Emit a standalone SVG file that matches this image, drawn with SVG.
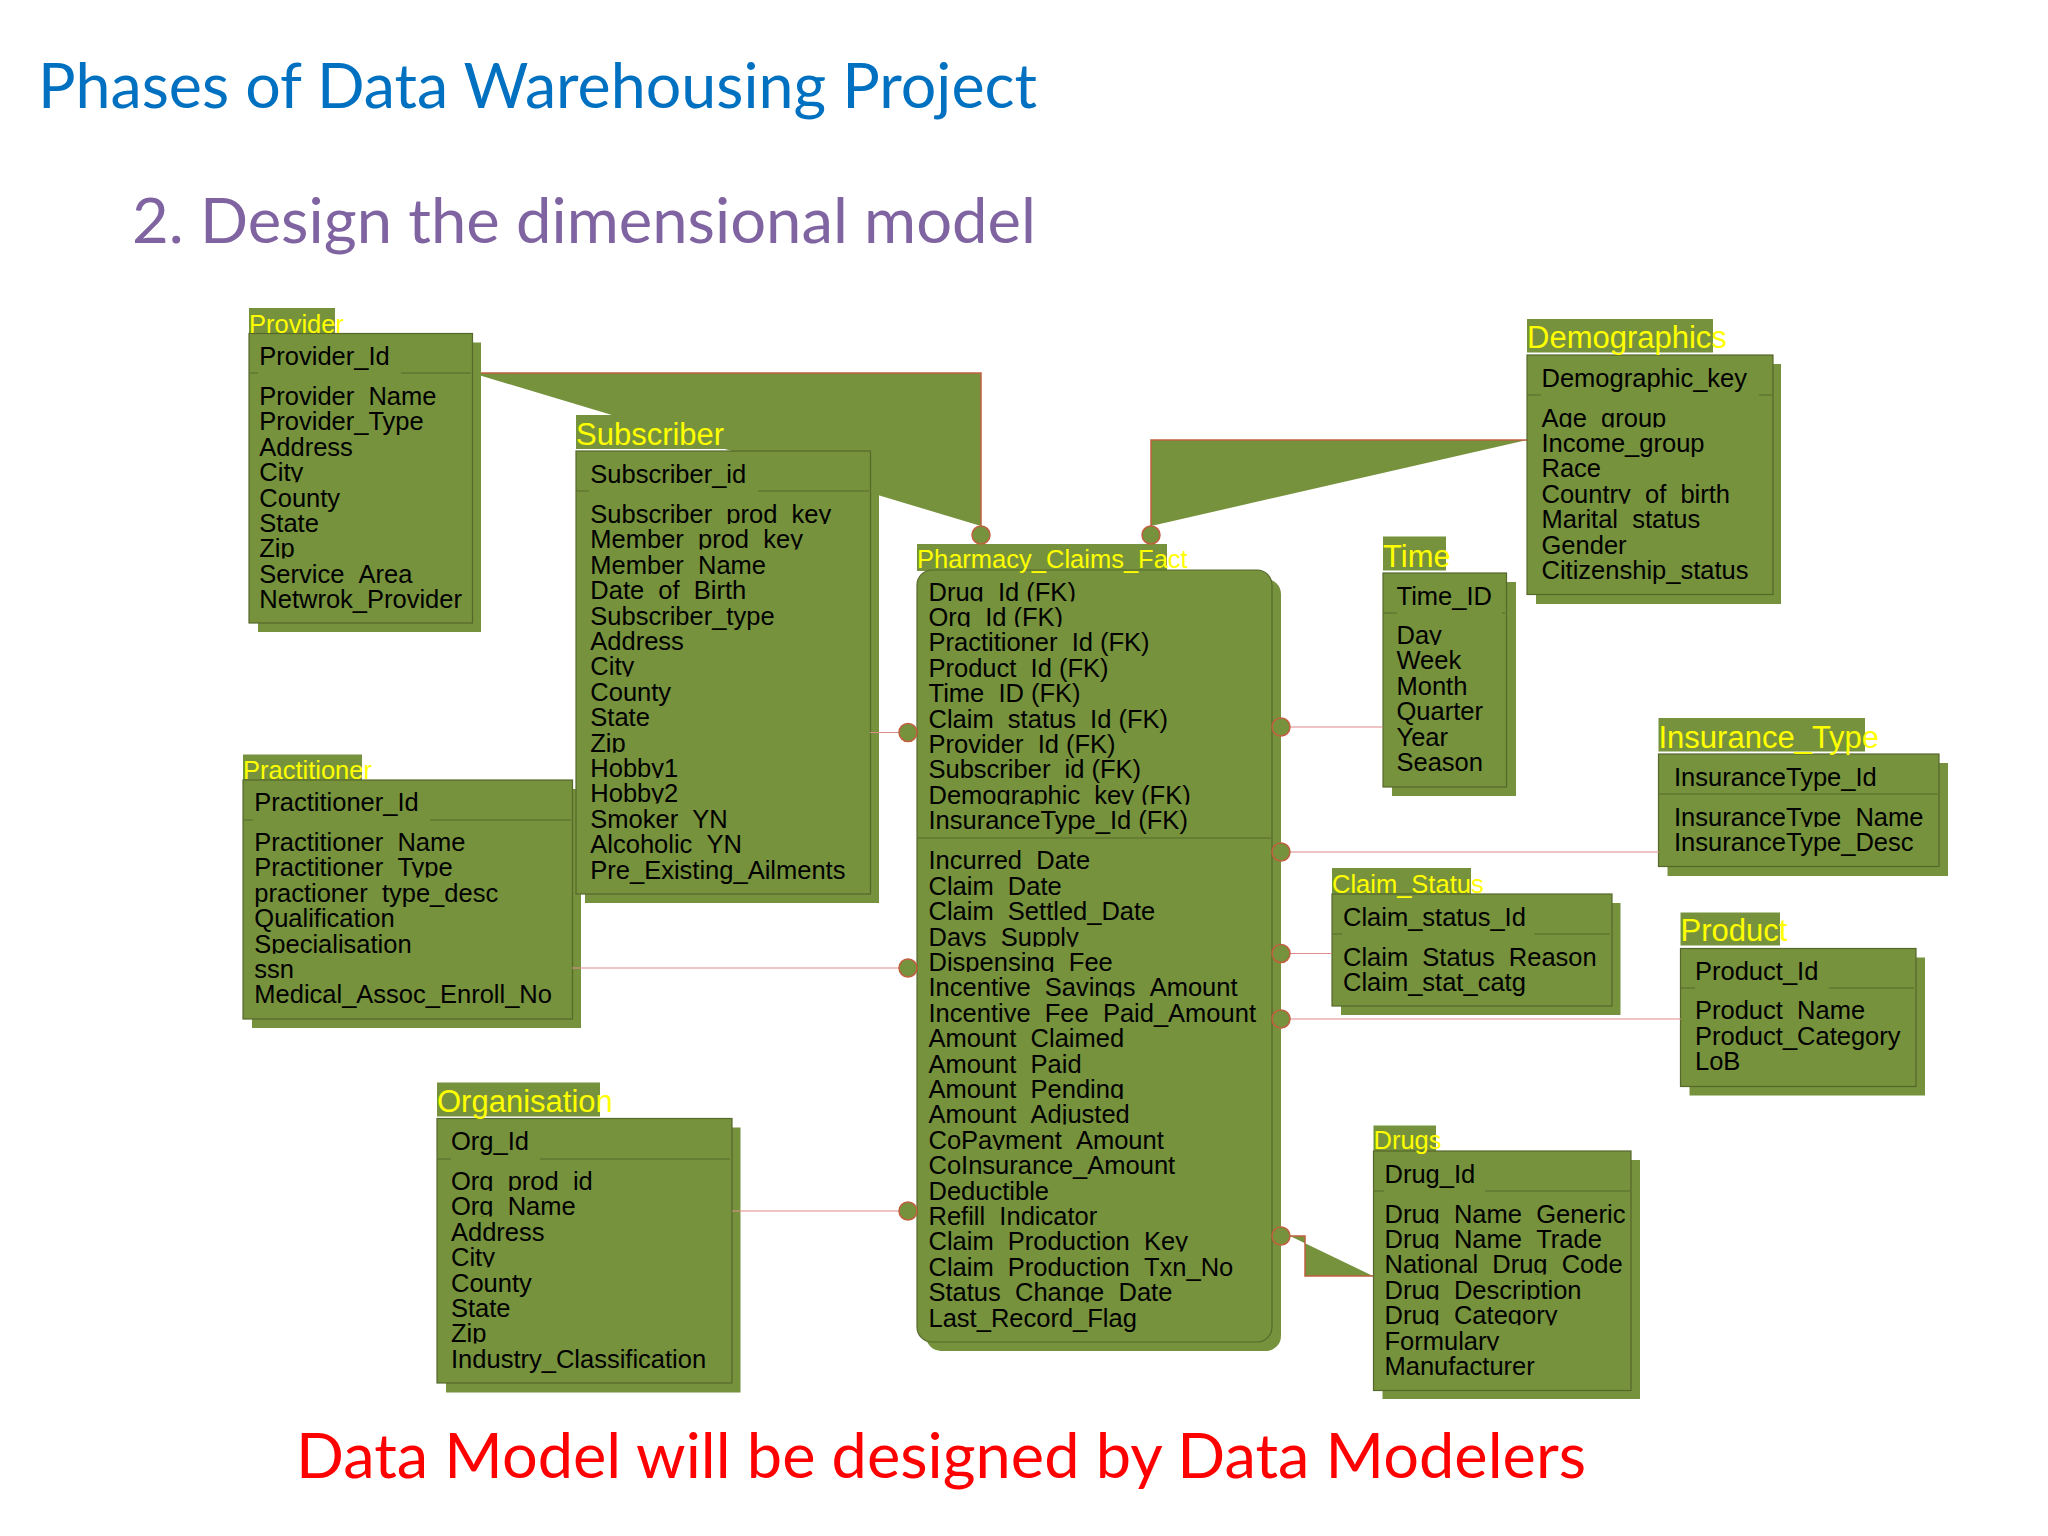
<svg xmlns="http://www.w3.org/2000/svg" width="2048" height="1536" viewBox="0 0 2048 1536">
<style>
.s,.t,.b,.f{fill:#76923c}
.b{stroke:#56682c;stroke-width:1.2}
.d{stroke:#56682c;stroke-width:1.2;fill:none}
.p{stroke:#c0603f;stroke-width:1.5;fill:none}
.l{stroke:#e08a8a;stroke-width:1.2;fill:none}
.e{fill:#76923c;stroke:#c0603f;stroke-width:1.5}
text{font-family:"Liberation Sans",Arial,sans-serif}
.n{font-size:25.5px;fill:#000}
.h{font-size:25.5px;fill:#ff0}
.H{font-size:31px;fill:#ff0}
.c{clip-path:url(#cut)}
.u{fill:none}
.g{font-family:Lato,"Open Sans",sans-serif}
</style>
<defs><clipPath id="cut" clipPathUnits="objectBoundingBox"><rect x="-0.05" y="0" width="1.1" height="0.86"/></clipPath></defs>
<rect width="2048" height="1536" fill="#fff"/>
<g id="headings">
<text class="g" x="38" y="107.7" font-size="61" fill="#0070c0" textLength="999" lengthAdjust="spacingAndGlyphs">Phases of Data Warehousing Project</text>
<text class="g" x="132" y="243" font-size="61" fill="#8064a2" textLength="904" lengthAdjust="spacingAndGlyphs">2. Design the dimensional model</text>
</g>
<g id="connectors">
<path class="f" d="M472 373H981V526Z"/><path class="p" d="M472 373H981V526"/>
<path class="f" d="M1527 440H1151V526Z"/><path class="p" d="M1527 440H1151V526"/>
<path class="f" d="M1290 1236H1305V1276H1373Z"/><path class="p" d="M1290 1236H1305V1276H1373"/>
</g>
<g id="Provider">
<rect class="s" x="258" y="342.500" width="223" height="289.500"/><rect class="t" x="249" y="308" width="86" height="26"/><rect class="b" x="249" y="333.500" width="223.500" height="289.500"/>
<path class="d" d="M249 373H258M401 373H471"/>
<text class="h" x="249" y="332.500">Provider</text>
<text class="n" x="259.300" y="365">Provider_Id</text>
<text class="n c" x="259.300" y="405">Provider_Name</text><text class="n" x="259.300" y="430.400">Provider_Type</text><text class="n" x="259.300" y="455.800">Address</text><text class="n c" x="259.300" y="481.200">City</text><text class="n" x="259.300" y="506.600">County</text><text class="n" x="259.300" y="532">State</text><text class="n c" x="259.300" y="557.400">Zip</text><text class="n c" x="259.300" y="582.800">Service_Area</text><text class="n" x="259.300" y="608.200">Netwrok_Provider</text>
</g>
<g id="Practitioner">
<rect class="s" x="252" y="789" width="329" height="239"/><rect class="t" x="243" y="754.500" width="119" height="26"/><rect class="b" x="243" y="780" width="329.500" height="239"/>
<path class="d" d="M243 820H253M430 820H571"/>
<text class="h" x="243" y="778.500">Practitioner</text>
<text class="n" x="254.300" y="811">Practitioner_Id</text>
<text class="n c" x="254.300" y="851">Practitioner_Name</text><text class="n c" x="254.300" y="876.400">Practitioner_Type</text><text class="n" x="254.300" y="901.800">practioner<tspan class="u">_</tspan>type_desc</text><text class="n" x="254.300" y="927.200">Qualification</text><text class="n c" x="254.300" y="952.600">Specialisation</text><text class="n" x="254.300" y="978">ssn</text><text class="n" x="254.300" y="1003.400">Medical_Assoc_Enroll_No</text>
</g>
<g id="Subscriber">
<rect class="s" x="585" y="460" width="294" height="443"/><rect class="t" x="576" y="415" width="149" height="34"/><rect class="b" x="576" y="451" width="294.500" height="443"/>
<path class="d" d="M576 491H589M758 491H869"/>
<text class="H" x="576" y="445">Subscriber</text>
<text class="n" x="590.300" y="482.600">Subscriber_id</text>
<text class="n c" x="590.300" y="523">Subscriber_prod_key</text><text class="n c" x="590.300" y="548.400">Member_prod_key</text><text class="n c" x="590.300" y="573.800">Member_Name</text><text class="n c" x="590.300" y="599.200">Date_of_Birth</text><text class="n" x="590.300" y="624.600">Subscriber_type</text><text class="n" x="590.300" y="650">Address</text><text class="n c" x="590.300" y="675.400">City</text><text class="n" x="590.300" y="700.800">County</text><text class="n" x="590.300" y="726.200">State</text><text class="n c" x="590.300" y="751.600">Zip</text><text class="n c" x="590.300" y="777">Hobby1</text><text class="n c" x="590.300" y="802.400">Hobby2</text><text class="n c" x="590.300" y="827.800">Smoker_YN</text><text class="n c" x="590.300" y="853.200">Alcoholic_YN</text><text class="n" x="590.300" y="878.600">Pre_Existing_Ailments</text>
</g>
<g id="Organisation">
<rect class="s" x="446" y="1127.500" width="294.500" height="265"/><rect class="t" x="437" y="1082.500" width="163" height="34"/><rect class="b" x="437" y="1118.500" width="295" height="264.500"/>
<path class="d" d="M437 1159H451M540 1159H730"/>
<text class="H" x="437" y="1112">Organisation</text>
<text class="n" x="451" y="1150">Org_Id</text>
<text class="n c" x="451" y="1190">Org_prod_id</text><text class="n c" x="451" y="1215.400">Org_Name</text><text class="n" x="451" y="1240.800">Address</text><text class="n c" x="451" y="1266.200">City</text><text class="n" x="451" y="1291.600">County</text><text class="n" x="451" y="1317">State</text><text class="n c" x="451" y="1342.400">Zip</text><text class="n" x="451" y="1367.800">Industry_Classification</text>
</g>
<g id="Pharmacy_Claims_Fact">
<rect class="s" x="926" y="579" width="355" height="772" rx="15"/><rect class="t" x="917" y="544" width="250" height="27"/><rect class="b" x="917" y="570" width="355" height="772" rx="15"/>
<path class="d" d="M917 838H1271"/>
<text class="h" x="917" y="568">Pharmacy_Claims_Fact</text>
<text class="n c" x="928.500" y="600.500">Drug_Id (FK)</text><text class="n c" x="928.500" y="625.900">Org_Id (FK)</text><text class="n" x="928.500" y="651.300">Practitioner<tspan class="u">_</tspan>Id (FK)</text><text class="n" x="928.500" y="676.700">Product<tspan class="u">_</tspan>Id (FK)</text><text class="n" x="928.500" y="702.100">Time<tspan class="u">_</tspan>ID (FK)</text><text class="n" x="928.500" y="727.500">Claim<tspan class="u">_</tspan>status<tspan class="u">_</tspan>Id (FK)</text><text class="n" x="928.500" y="752.900">Provider<tspan class="u">_</tspan>Id (FK)</text><text class="n" x="928.500" y="778.300">Subscriber<tspan class="u">_</tspan>id (FK)</text><text class="n c" x="928.500" y="803.700">Demographic_key (FK)</text><text class="n" x="928.500" y="829.100">InsuranceType_Id (FK)</text>
<text class="n c" x="928.500" y="869.400">Incurred_Date</text><text class="n c" x="928.500" y="894.800">Claim_Date</text><text class="n" x="928.500" y="920.200">Claim<tspan class="u">_</tspan>Settled_Date</text><text class="n c" x="928.500" y="945.600">Days_Supply</text><text class="n c" x="928.500" y="971">Dispensing_Fee</text><text class="n c" x="928.500" y="996.400">Incentive_Savings_Amount</text><text class="n" x="928.500" y="1021.800">Incentive<tspan class="u">_</tspan>Fee<tspan class="u">_</tspan>Paid_Amount</text><text class="n c" x="928.500" y="1047.200">Amount_Claimed</text><text class="n c" x="928.500" y="1072.600">Amount_Paid</text><text class="n c" x="928.500" y="1098">Amount_Pending</text><text class="n c" x="928.500" y="1123.400">Amount_Adjusted</text><text class="n c" x="928.500" y="1148.800">CoPayment_Amount</text><text class="n" x="928.500" y="1174.200">CoInsurance_Amount</text><text class="n" x="928.500" y="1199.600">Deductible</text><text class="n c" x="928.500" y="1225">Refill_Indicator</text><text class="n c" x="928.500" y="1250.400">Claim_Production_Key</text><text class="n" x="928.500" y="1275.800">Claim<tspan class="u">_</tspan>Production<tspan class="u">_</tspan>Txn_No</text><text class="n c" x="928.500" y="1301.200">Status_Change_Date</text><text class="n" x="928.500" y="1326.600">Last_Record_Flag</text>
</g>
<g id="Time">
<rect class="s" x="1392" y="582" width="124" height="214"/><rect class="t" x="1383" y="536.500" width="63" height="34"/><rect class="b" x="1383" y="573" width="123.500" height="214"/>
<path class="d" d="M1383 613H1397M1502 613H1505"/>
<text class="H" x="1383" y="567">Time</text>
<text class="n" x="1396.500" y="604.500">Time_ID</text>
<text class="n c" x="1396.500" y="644">Day</text><text class="n" x="1396.500" y="669.400">Week</text><text class="n" x="1396.500" y="694.800">Month</text><text class="n" x="1396.500" y="720.200">Quarter</text><text class="n" x="1396.500" y="745.600">Year</text><text class="n" x="1396.500" y="771">Season</text>
</g>
<g id="Demographics">
<rect class="s" x="1536" y="364" width="245" height="240"/><rect class="t" x="1527" y="319" width="186" height="33.500"/><rect class="b" x="1527" y="355" width="246" height="239.500"/>
<path class="d" d="M1527 395H1541M1759 395H1772"/>
<text class="H" x="1527" y="348">Demographics</text>
<text class="n" x="1541.500" y="387">Demographic_key</text>
<text class="n c" x="1541.500" y="426.500">Age_group</text><text class="n" x="1541.500" y="451.900">Income_group</text><text class="n" x="1541.500" y="477.300">Race</text><text class="n c" x="1541.500" y="502.700">Country_of_birth</text><text class="n c" x="1541.500" y="528.100">Marital_status</text><text class="n" x="1541.500" y="553.500">Gender</text><text class="n" x="1541.500" y="578.900">Citizenship_status</text>
</g>
<g id="Insurance_Type">
<rect class="s" x="1667.500" y="763" width="280.500" height="113"/><rect class="t" x="1658.500" y="718" width="206.500" height="33.500"/><rect class="b" x="1658.500" y="754" width="280.500" height="112.500"/>
<path class="d" d="M1659 794H1938"/>
<text class="H" x="1658.500" y="748">Insurance_Type</text>
<text class="n" x="1674" y="785.600">InsuranceType_Id</text>
<text class="n c" x="1674" y="826">InsuranceType_Name</text><text class="n" x="1674" y="851.400">InsuranceType_Desc</text>
</g>
<g id="Claim_Status">
<rect class="s" x="1341" y="903" width="279.500" height="112"/><rect class="t" x="1332" y="868" width="139" height="27"/><rect class="b" x="1332" y="894" width="280" height="112"/>
<path class="d" d="M1332 934H1342M1534 934H1610"/>
<text class="h" x="1332" y="893">Claim_Status</text>
<text class="n" x="1343" y="926">Claim_status_Id</text>
<text class="n c" x="1343" y="965.500">Claim_Status_Reason</text><text class="n" x="1343" y="991">Claim_stat_catg</text>
</g>
<g id="Product">
<rect class="s" x="1689.500" y="957.500" width="235.500" height="138"/><rect class="t" x="1680.500" y="912.500" width="99.500" height="33"/><rect class="b" x="1680.500" y="948.500" width="235.500" height="138"/>
<path class="d" d="M1681 988H1695M1829 988H1914"/>
<text class="H" x="1680.500" y="941">Product</text>
<text class="n" x="1695" y="979.600">Product_Id</text>
<text class="n c" x="1695" y="1019">Product_Name</text><text class="n" x="1695" y="1044.500">Product_Category</text><text class="n" x="1695" y="1070">LoB</text>
</g>
<g id="Drugs">
<rect class="s" x="1382.500" y="1160" width="257.500" height="239"/><rect class="t" x="1373.500" y="1125.500" width="62.500" height="26"/><rect class="b" x="1373.500" y="1151" width="257.500" height="239.500"/>
<path class="d" d="M1374 1191H1384M1485 1191H1630"/>
<text class="h" x="1373.500" y="1149">Drugs</text>
<text class="n" x="1384.500" y="1182.500">Drug_Id</text>
<text class="n c" x="1384.500" y="1222.500">Drug_Name_Generic</text><text class="n c" x="1384.500" y="1247.900">Drug_Name_Trade</text><text class="n c" x="1384.500" y="1273.300">National_Drug_Code</text><text class="n c" x="1384.500" y="1298.700">Drug_Description</text><text class="n c" x="1384.500" y="1324.100">Drug_Category</text><text class="n c" x="1384.500" y="1349.500">Formulary</text><text class="n" x="1384.500" y="1374.900">Manufacturer</text>
</g>
<g id="connector-ends">
<path class="l" d="M870 732.500H900M572 968H900M732 1211H900M1289 727H1383M1289 852H1659M1289 953.500H1332M1289 1019H1681"/>
<circle class="e" cx="981" cy="535" r="9"/><circle class="e" cx="1151" cy="535" r="9"/>
<circle class="e" cx="908" cy="732.500" r="9"/><circle class="e" cx="908" cy="968" r="9"/><circle class="e" cx="908" cy="1211" r="9"/>
<circle class="e" cx="1281" cy="727" r="9"/><circle class="e" cx="1281" cy="852" r="9"/><circle class="e" cx="1281" cy="953.500" r="9"/><circle class="e" cx="1281" cy="1019" r="9"/><circle class="e" cx="1281" cy="1236" r="9"/>
</g>
<g id="footer">
<text class="g" x="296" y="1477.700" font-size="61" fill="#f00" textLength="1290" lengthAdjust="spacingAndGlyphs">Data Model will be designed by Data Modelers</text>
</g>
</svg>
